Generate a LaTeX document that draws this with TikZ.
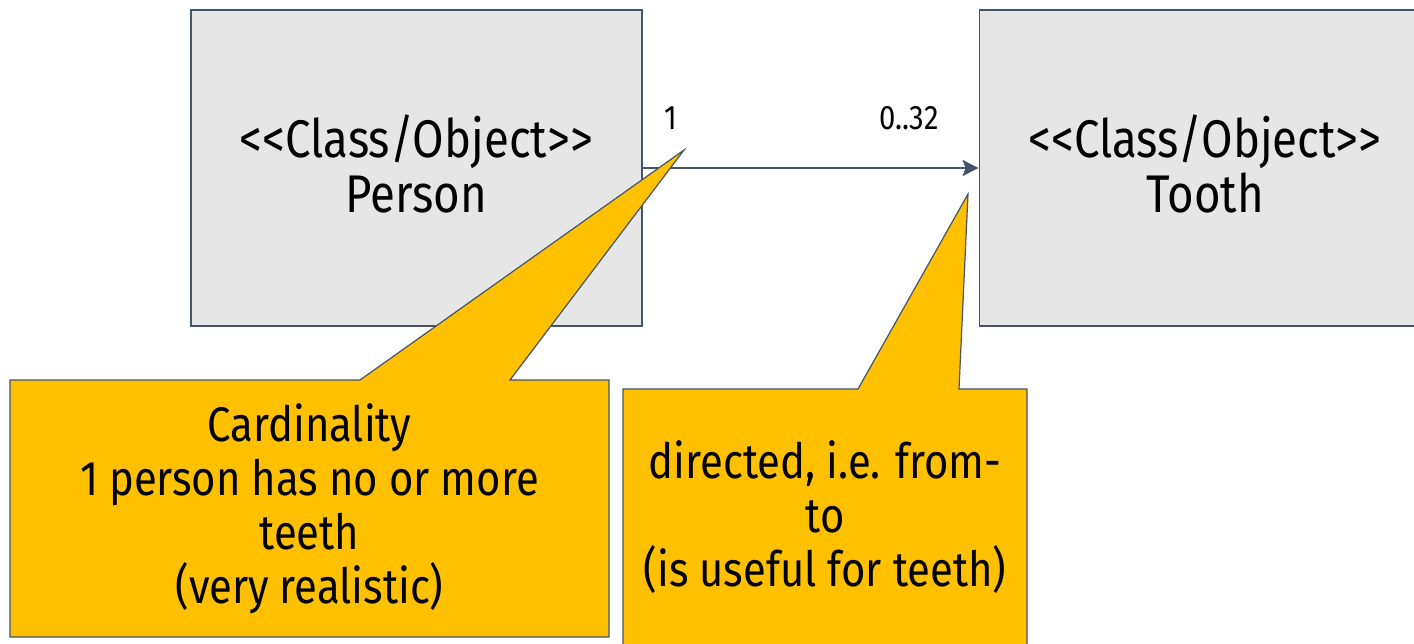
\documentclass[tikz,border=0pt]{standalone}
\usepackage{fontspec}
\setmainfont{Fira Sans}[FakeStretch=0.86,Ligatures=NoCommon]
\usetikzlibrary{arrows.meta}
\definecolor{edgecol}{HTML}{44546A}
\definecolor{boxgray}{HTML}{E6E6E6}
\definecolor{noteyellow}{HTML}{FFC000}
\newcommand{\lt}{{<}\kern0pt}
\newcommand{\gt}{{>}\kern0pt}
\tikzset{
  classbox/.style={draw=edgecol, line width=0.9pt, fill=boxgray, minimum width=225.5pt, minimum height=158pt, inner sep=0pt},
  classtext/.style={align=center, font=\fontsize{26.5}{27.5}\selectfont, inner sep=0pt},
  notetext/.style={align=center, font=\fontsize{24.3}{27}\selectfont, inner sep=0pt},
  notebox/.style={draw=edgecol, line width=0.6pt, fill=noteyellow},
  assoc/.style={draw=edgecol, line width=1.2pt, -{Stealth[length=8pt,width=8pt,inset=1.5pt]}},
  mult/.style={font=\fontsize{17}{19}\selectfont, inner sep=0pt}
}
\begin{document}
\begin{tikzpicture}[x=0.5pt,y=-0.5pt]
\useasboundingbox (0,0) rectangle (1414,643);
\node[classbox] (person) at (416.5,168) {};
\node[classbox] (tooth) at (1205,168) {};
\node[classtext] (personname) at (416.5,164) {\lt\lt Class/Object\gt\gt\\Person};
\node[classtext] (toothname) at (1205,164) {\lt\lt Class/Object\gt\gt\\Tooth};
\draw[assoc] (person.east) -- (tooth.west);
\node[mult] (m1) at (671,118) {1};
\node[mult] (m2) at (909,118) {0..32};
\coordinate (tip1) at (684,150);
\coordinate (tip2) at (968,194);
\filldraw[notebox] (10,380) -- (360,380) -- (tip1) -- (510,380) -- (609,380) -- (609,637) -- (10,637) -- cycle;
\filldraw[notebox] (623,389) -- (858,389) -- (tip2) -- (959,389) -- (1027,389) -- (1027,660) -- (623,660) -- cycle;
\node[notetext] (note1) at (309.5,508.5) {Cardinality\\1 person has no or more\\teeth\\(very realistic)};
\node[notetext] (note2) at (825,517) {directed, i.e. from-\\to\\(is useful for teeth)};
\end{tikzpicture}
\end{document}
